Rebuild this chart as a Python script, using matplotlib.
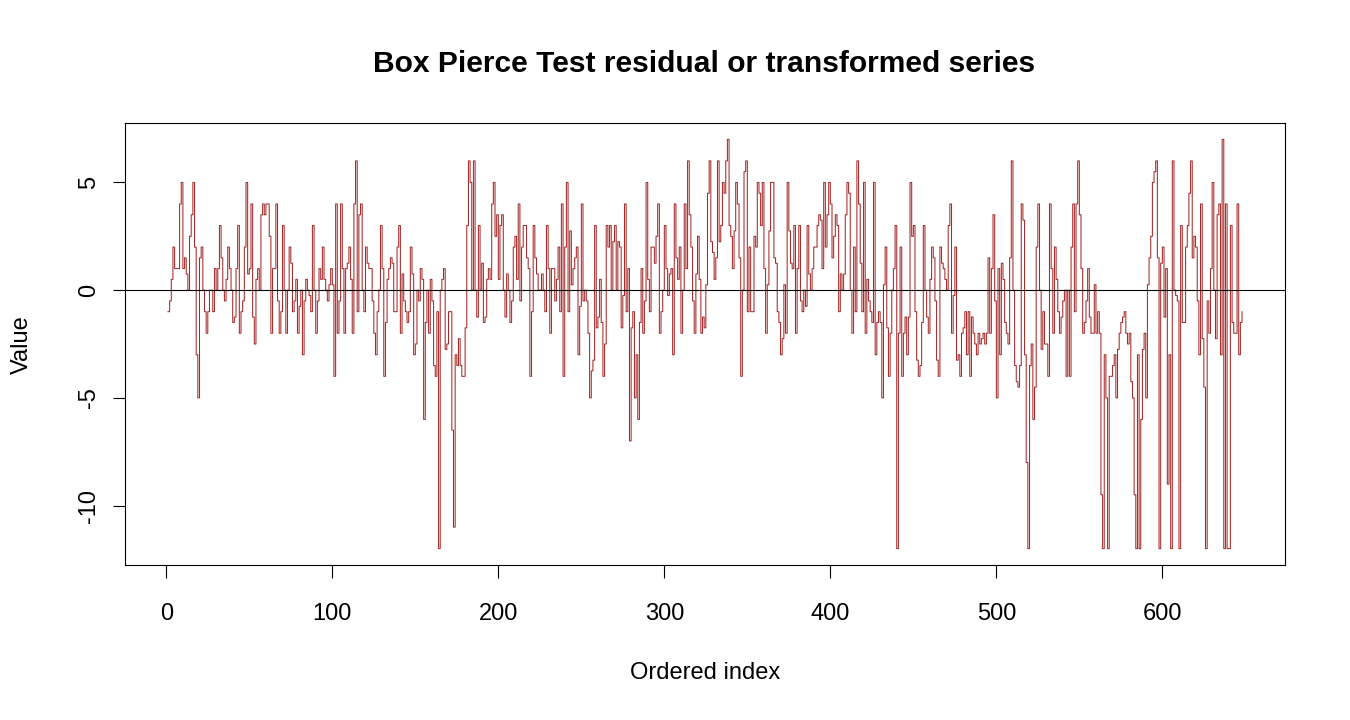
import numpy as np
import matplotlib
matplotlib.use("Agg")
import matplotlib.pyplot as plt

plt.rcParams['font.family'] = ['Liberation Sans', 'DejaVu Sans']

# Values (index 1..648)
seg1 = [-1, -0.5, 0.5, 2, 1, 1, 1, 4, 5, 1, 1.5, 0.75, 0, 2.5, 3.5, 5, 2, -3, -5, 1.5,
        2, 0, -1, -2, -1, 0, 0, -1, 1, 0, 1, 3, 1.5, 0, -0.5, 0.5, 2, 1, 0, -1.5,
        -1.25, 1, 3, -2, -1, -0.5, 2, 5, 0.75, 1, 4, -1.25]
seg2 = [-2.5, 0.5, 1, 0, 3.5, 4, 3.5, 4, 4, 2.5, -2, 1, 1, 4, -0.5, -2, -1, 3, 0, -2,
        0, 2, 1.25, -1, -0.5, 0.5, -2, -0.75, 0, -3, -0.5, 0.5, 0, -0.25, -1, 3, 0, -2,
        -0.5, 1, 0.5, 2, 0.5, 0, -0.5, 0.25, 1, 0.25, -4, 4, -2, -0.5, 4, 1, -2, 1]
seg3 = [1.25, 2, 0.5, -2, 4, 6, -1, 3.5, 4, 0, -1, 2, 1.25, 1, 1, -0.5, -2, -3, -1, 0,
        3, 1, -4, -1.5, 0.5, 1, 1.5, 1.25, -1, -1, 2, 3, -2, 0.75, -0.5, -1, -1.5, -1,
        2, 0.75, -3, -2.5, 0, -0.5, 1, 0.5, -6, -1.5, 0, -2, 0.5, -0.5, -3.5, -4, -1]
seg4 = [-12, 0, 0.5, 1, -2.75, -2.5, -1, -1, -6.5, -11, -3, -3.5, -2.25, -3.5, -4, -4,
        -1.75, 3, 6, 5, 0, 6, 0, -1.25, 3, 0, 1.25, -1.5, -1.25, 0.5, 1, 0.5, 4, 5,
        2.5, 3.5, 0.5, 3, 3.5, 0, -1.25, 0.75, 0, -1.5, -0.5, 2, 2.5, 0.5, 4, -0.5, 2,
        3, 3, 1.5, 1]
seg5 = [-4, -1, 3, 1.5, 0.75, 0, 0, 0.75, 0, -1, 3, 1, -2, 1, 1, -0.5, 0.5, 2, -1, 4,
        -4, 2, 5, -1, 2.75, 0.25, 1, 1.5, 2, -3, -0.75, 4, -0.5, 0, -0.5, -2, -5, -3.75,
        -3.25, 3, -1.75, -1.25, 0.5, -1.5, -4, -2.5, 3, 2, 3, 0, 2.25, 3, 0, 2.25, 2]
seg6 = [-1.75, -0.25, 4, -1, 1, -7, -1.75, -1, -5, -3, -6, -1.5, 1, -2, -0.5, 5, 0.5,
        -1, 2, 2, 1.25, 2.5, 4, -2, -1, 0, 3, 1, -0.25, 0.75, 1, -3, 4, 1.5, 0.5, 2,
        -2, 0, 4, 1, 6, 3.5, 2, -0.5, -2, 0.75, 2.5, 0.5, -2, -1.25, -1.75, 0.25, 4.5,
        6, 2.25]
seg7 = [1.75, 0.5, 1.5, 6, 2.25, 3, 5, 4.5, 6, 7, 3, 2.5, 1, 2.75, 5, 4, 1.5, -4, 0,
        5.5, 6, -1, 2, -1, -1, 2.5, 2, 5, 4.5, 3, 5, 1, -2, 0.25, 2.75, 5, 5, 1.5, 1.25,
        -1, -1.5, -3, -2.25, 0.25, -2, 5, 2.75, 1.25, 1, 3, -2, 1, 3, -0.5, -1, 0]
seg8 = [-0.75, 3, 0.75, 0, 1, 2, 2, 3, 3.5, 3.25, 1, 5, 2, 3.5, 5, 4, 1.5, 2.5, 3.5, 3,
        -1, 0.75, 0, 0.75, 3.5, 5, 4.5, 0, -2, 2, -1, 6, 4, 1.25, -1, 5, -2, 0.5, -0.5,
        -1, -1.5, 5, -3, -1.5, -1, -1.5, -5, 0.25, 2, -1.75, -4, -2, 0, 1, 3]
seg9 = [-12, -2, 2, -4, -2, -1.25, -3, -1.25, 5, 2.5, 3, -1, -3.25, -4, -3.5, -1.5, 3,
        0, -1.25, -2, 0.5, 2, 1.5, -0.5, -3.25, -4, 2, 1.25, 1, 0.5, 0, 3, 4, -2, -0.25,
        2, -3.25, -3, -4, -2, -1.75, -1, -3, -1, -4, -1.25, -2, -2.5, -3, -2, -2.5,
        -2.25, -2, -2.5, -2]
seg10 = [1.5, -2, 1, 3.5, -0.5, -5, 1, -3, 1.25, 0.5, -1.5, -2, -2.5, 1.5, 6, 0, -3.5,
         -4.25, -4.5, -3.5, 4, 3.25, -3, -8, -12, -3.5, -2.5, -6, -4.5, 2, 4, 0, -2.75,
         -1, -2.5, -2.5, -4, 4, 1, -2, 2, 0.5, -1, -2, -1.25, -0.5, 0, -4, 0, -4, 2, 4,
         -1, 4, 6, 3.5]
seg11 = [1, -2, -1.5, -0.5, 1, -1.25, -2, -2, 0.25, -2, -1, -2, -9.5, -12, -3, -5, -12,
         -4, -4, -3.5, -3, -5, -2.75, -2, -1.5, -1.25, -1, -2, -2.5, -2, -4.25, -5,
         -9.5, -12, -3, -12, -6, -2.75, -2, -5, 0.25, 1.5, 2.5, 5, 5.5, 6, 1.5, -12,
         1.25, 2, -1.25, 1, -9, -3, -12]
seg12 = [6, 0, -0.25, -0.5, -12, 3, -1.5, -1.5, 2, 3, 4.5, 6, 1.5, 2.5, 2, -0.5, -3, 4,
         -2.25, -4.5, -12, -0.5, -2, 1, 5, 0, -2.25, 3.5, 4, -3, 7, -12, 4, -12, -12, 3,
         -1.5, -2, -2, 4, -3, -1.5, -1]

values = np.array(seg1 + seg2 + seg3 + seg4 + seg5 + seg6 + seg7 + seg8 + seg9
                  + seg10 + seg11 + seg12, dtype=float)
index = np.arange(1, len(values) + 1)

x_ticks = [0, 100, 200, 300, 400, 500, 600]
y_ticks = [-10, -5, 0, 5]

fig = plt.figure(figsize=(13.5, 7.2), dpi=100)
ax = fig.add_axes([125 / 1350, 1 - 565 / 720, 1160 / 1350, 442 / 720])

ax.plot(index, values, drawstyle='steps-post', color='#A52A2A', linewidth=0.75)
ax.axhline(0, color='black', linewidth=0.8)

n = len(values)
xr = n - 1
ax.set_xlim(1 - 0.04 * xr, n + 0.04 * xr)
ymin, ymax = values.min(), values.max()
yr = ymax - ymin
ax.set_ylim(ymin - 0.04 * yr, ymax + 0.04 * yr)

ax.set_xticks(x_ticks)
ax.set_yticks(y_ticks)
ax.set_xticklabels([str(t) for t in x_ticks])
ax.set_yticklabels([str(t) for t in y_ticks], rotation=90, va='center')
ax.tick_params(axis='both', direction='out', length=9, width=0.8, labelsize=17,
               color='black', labelcolor='black')
ax.tick_params(axis='x', pad=18)
ax.tick_params(axis='y', pad=9)

for s in ax.spines.values():
    s.set_linewidth(0.8)
    s.set_color('black')

fig.text(704 / 1350, 1 - 64 / 720, 'Box Pierce Test residual or transformed series',
         ha='center', va='center', fontsize=21.6, fontweight='bold')
fig.text(705 / 1350, 1 - 673 / 720, 'Ordered index', ha='center', va='center', fontsize=17)
fig.text(22 / 1350, 1 - 345 / 720, 'Value', ha='center', va='center', fontsize=17,
         rotation=90)

fig.savefig('out.png', dpi=100)
